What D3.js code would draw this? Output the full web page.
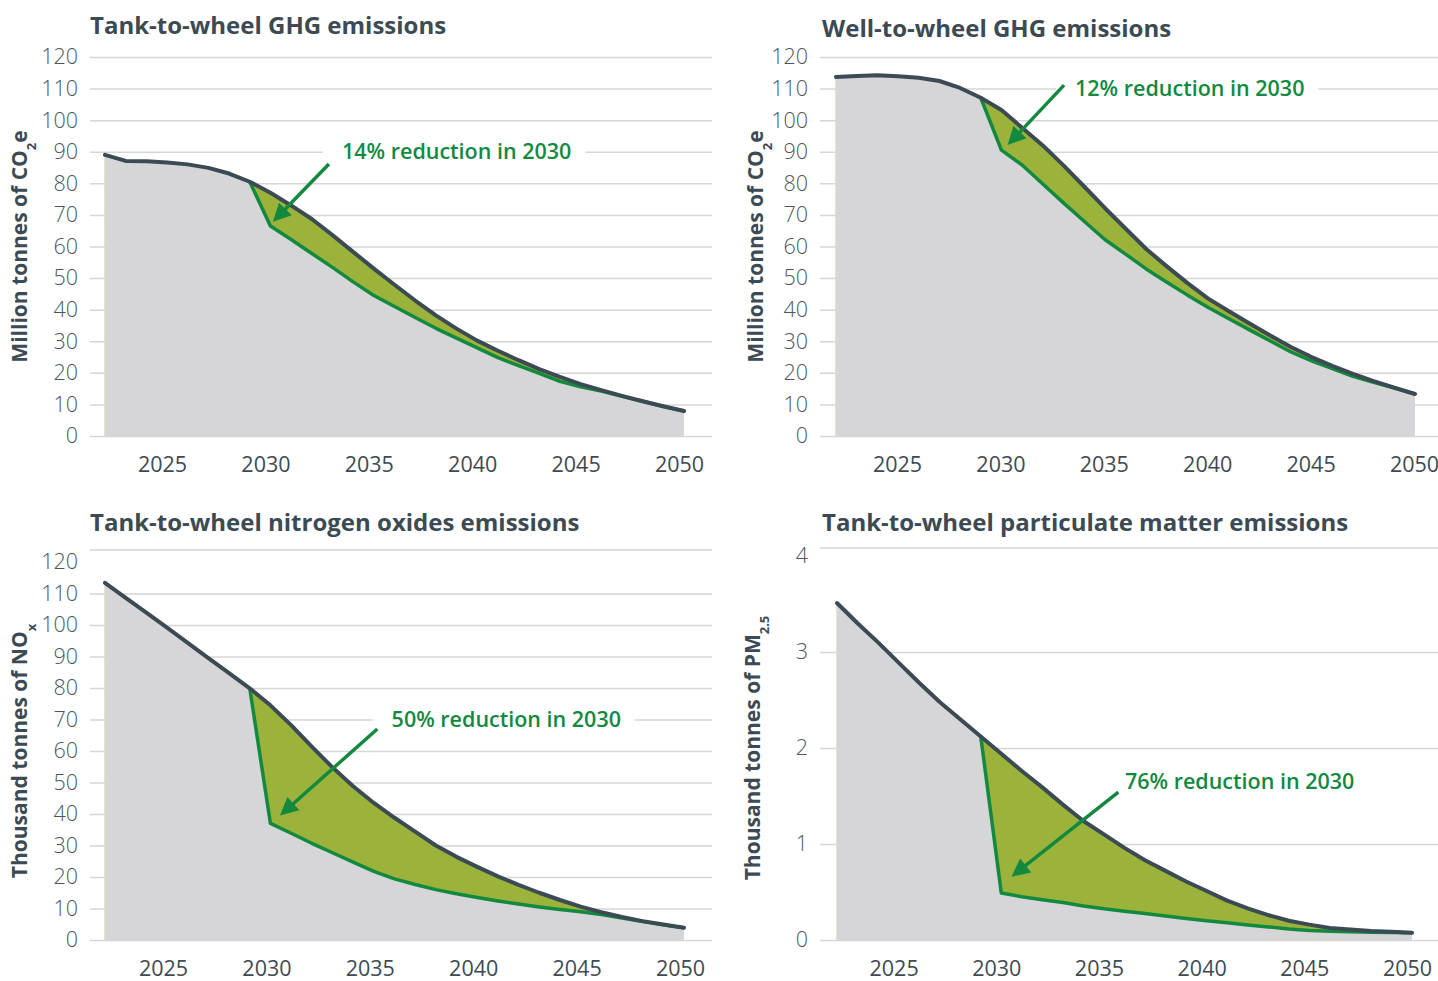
<!DOCTYPE html>
<html>
<head>
<meta charset="utf-8">
<script src="https://cdn.jsdelivr.net/npm/d3@7/dist/d3.min.js"></script>
<style>
  body { margin: 0; background: #fff; }
  svg { display: block; font-family: "Open Sans", sans-serif; }
</style>
</head>
<body>
<svg id="chart" width="1438" height="981"></svg>
<script>
// years on the x axis
var years = [2022, 2023, 2024, 2025, 2026, 2027, 2028, 2029, 2030, 2031, 2032, 2033, 2034, 2035,
  2036, 2037, 2038, 2039, 2040, 2041, 2042, 2043, 2044, 2045, 2046, 2047, 2048, 2049, 2050];
var policyYears = [2029, 2030, 2031, 2032, 2033, 2034, 2035, 2036, 2037, 2038, 2039, 2040,
  2041, 2042, 2043, 2044, 2045, 2046, 2047, 2048, 2049, 2050];
var xTicks = [2025, 2030, 2035, 2040, 2045, 2050];
var tonneTicks = [0, 10, 20, 30, 40, 50, 60, 70, 80, 90, 100, 110, 120];
var pmTicks = [0, 1, 2, 3, 4];

// Tank-to-wheel GHG, million t CO2e
var ttwGhgBase = [89, 87.1, 87, 86.6, 86, 84.9, 83.1, 80.5, 77, 73, 68.7, 63.6, 58.3, 53, 47.9,
  42.9, 38.2, 34, 30.2, 27, 24, 21.2, 18.7, 16.4, 14.5, 12.7, 11, 9.4, 7.9];
var ttwGhgPolicy = [80.5, 66.5, 62.2, 57.8, 53.4, 48.8, 44.5, 41, 37.5, 34.1, 31, 27.9, 24.8,
  22.3, 19.8, 17.3, 15.6, 14.2, 12.6, 11, 9.3, 7.9];

// Well-to-wheel GHG, million t CO2e
var wtwGhgBase = [113.7, 114, 114.2, 113.9, 113.4, 112.4, 110.2, 107.1, 103.2, 97.6, 92, 85.7,
  79, 72.2, 65.7, 59.2, 53.7, 48.4, 43.5, 39.5, 35.6, 31.8, 28.2, 25, 22.2, 19.7, 17.4, 15.3, 13.3];
var wtwGhgPolicy = [107.1, 90.5, 85.8, 79.8, 73.8, 68, 62.2, 57.6, 52.9, 48.7, 44.6, 40.7, 37.1,
  33.6, 30.1, 26.6, 23.8, 21.3, 18.9, 17, 15.2, 13.3];

// Tank-to-wheel NOx, thousand t
var noxBase = [113.4, 108.6, 103.9, 99.2, 94.3, 89.5, 84.7, 79.9, 74.5, 68.2, 61.4, 54.8, 48.8,
  43.5, 38.8, 34.4, 30, 26.4, 23.2, 20.2, 17.5, 15, 12.7, 10.6, 8.8, 7.3, 6, 4.9, 3.9];
var noxPolicy = [79.9, 37, 33.9, 30.7, 27.7, 24.7, 21.8, 19.4, 17.6, 16, 14.7, 13.5, 12.4, 11.4,
  10.5, 9.7, 9, 8.1, 7, 5.9, 4.8, 3.9];

// Tank-to-wheel PM2.5, thousand t
var pmBase = [3.51, 3.3, 3.1, 2.89, 2.68, 2.48, 2.3, 2.12, 1.94, 1.76, 1.59, 1.41, 1.24, 1.1,
  0.96, 0.83, 0.72, 0.61, 0.51, 0.41, 0.33, 0.26, 0.2, 0.16, 0.125, 0.11, 0.095, 0.085, 0.075];
var pmPolicy = [2.12, 0.49, 0.45, 0.42, 0.39, 0.355, 0.325, 0.3, 0.275, 0.25, 0.225, 0.2, 0.18,
  0.157, 0.136, 0.115, 0.1, 0.092, 0.086, 0.082, 0.078, 0.075];

var titles = ["Tank-to-wheel GHG emissions", "Well-to-wheel GHG emissions",
  "Tank-to-wheel nitrogen oxides emissions", "Tank-to-wheel particulate matter emissions"];
var notes = ["14% reduction in 2030", "12% reduction in 2030",
  "50% reduction in 2030", "76% reduction in 2030"];

var DARK = "#3c4a53", GREEN = "#12893f", OLIVE = "#9cb33b", GRAY = "#d6d6d9", GRID = "#d6d6d6";

var svg = d3.select("#chart");

var panels = [
  { base: ttwGhgBase, policy: ttwGhgPolicy, max: 120, ticks: tonneTicks, title: titles[0],
    yTitle: ["Million tonnes of CO", "2", "e"], note: notes[0],
    left: 105, right: 684, top: 57, bottom: 436, gridLeft: 90, gridRight: 712,
    titleX: 90, titleY: 25, yTitleX: 19, labelShift: -5, topLine: null,
    ann: { label: [2033.46, 90], from: [2032.83, 86.1], to: [2030.12, 67.8] } },
  { base: wtwGhgBase, policy: wtwGhgPolicy, max: 120, ticks: tonneTicks, title: titles[1],
    yTitle: ["Million tonnes of CO", "2", "e"], note: notes[1],
    left: 836, right: 1415, top: 57, bottom: 436, gridLeft: 820, gridRight: 1438,
    titleX: 822, titleY: 28, yTitleX: 755, labelShift: -1, topLine: null,
    ann: { label: [2033.56, 110], from: [2033.03, 111.1], to: [2030.3, 92.1] } },
  { base: noxBase, policy: noxPolicy, max: 120, ticks: tonneTicks, title: titles[2],
    yTitle: ["Thousand tonnes of NO", "x", ""], note: notes[2],
    left: 105, right: 684, top: 562, bottom: 940, gridLeft: 90, gridRight: 712,
    titleX: 90, titleY: 522, yTitleX: 19, labelShift: -4, topLine: 550,
    ann: { label: [2035.86, 70], from: [2035.17, 67], to: [2030.46, 39.5] } },
  { base: pmBase, policy: pmPolicy, max: 4, ticks: pmTicks, title: titles[3],
    yTitle: ["Thousand tonnes of PM", "2.5", ""], note: notes[3],
    left: 837, right: 1412, top: 556, bottom: 940, gridLeft: 820, gridRight: 1438,
    titleX: 822, titleY: 522, yTitleX: 752, labelShift: -5, topLine: 548,
    ann: { label: [2036.02, 1.65], from: [2035.7, 1.54], to: [2030.5, 0.66] } }
];

function drawPanel(p) {
  var g = svg.append("g");
  var x = d3.scaleLinear().domain([2022, 2050]).range([p.left, p.right]);
  var y = d3.scaleLinear().domain([0, p.max]).range([p.bottom, p.top]);

  // gridlines + y tick labels
  var yAxis = g.append("g")
    .attr("transform", "translate(" + p.gridLeft + ",0)")
    .call(d3.axisLeft(y).tickValues(p.ticks).tickSize(-(p.gridRight - p.gridLeft))
      .tickPadding(12).tickFormat(d3.format("d")));
  yAxis.select(".domain").remove();
  yAxis.selectAll(".tick line").attr("stroke", GRID).attr("stroke-width", 1.5);
  yAxis.selectAll(".tick text")
    .attr("fill", "#4b575f").attr("font-size", 21.5).attr("font-weight", 300)
    .attr("font-family", "\"Open Sans\", sans-serif");
  if (p.topLine !== null) {
    yAxis.selectAll(".tick").filter(function(d) { return d === p.max; }).select("line").remove();
    g.append("line")
      .attr("x1", p.gridLeft).attr("x2", p.gridRight)
      .attr("y1", p.topLine).attr("y2", p.topLine)
      .attr("stroke", GRID).attr("stroke-width", 1.5);
  }

  // x tick labels
  var xAxis = g.append("g")
    .attr("transform", "translate(" + p.labelShift + "," + p.bottom + ")")
    .call(d3.axisBottom(x).tickValues(xTicks).tickSize(0).tickPadding(21).tickFormat(d3.format("d")));
  xAxis.select(".domain").remove();
  xAxis.selectAll(".tick text")
    .attr("fill", "#3f4a52").attr("font-size", 21.5).attr("font-weight", 500)
    .attr("font-family", "\"Open Sans\", sans-serif");

  var rows = years.map(function(yr, i) { return { year: yr, v: p.base[i] }; });
  var prow = policyYears.map(function(yr, i) {
    return { year: yr, p: p.policy[i], b: p.base[years.indexOf(yr)] };
  });

  // grey area under the baseline
  g.append("path")
    .datum(rows)
    .attr("fill", GRAY)
    .attr("d", d3.area().x(function(d) { return x(d.year); })
      .y0(y(0)).y1(function(d) { return y(d.v); }));
  g.append("line")
    .attr("x1", x(2022)).attr("x2", x(2022))
    .attr("y1", y(0)).attr("y2", y(p.base[0]))
    .attr("stroke", "#d9dac8").attr("stroke-width", 1.5);

  // olive wedge between baseline and policy
  g.append("path")
    .datum(prow)
    .attr("fill", OLIVE)
    .attr("d", d3.area().x(function(d) { return x(d.year); })
      .y0(function(d) { return y(d.p); }).y1(function(d) { return y(d.b); }));

  g.append("path")
    .datum(prow)
    .attr("fill", "none").attr("stroke", GREEN).attr("stroke-width", 3.5)
    .attr("stroke-linejoin", "round")
    .attr("d", d3.line().x(function(d) { return x(d.year); }).y(function(d) { return y(d.p); }));

  g.append("path")
    .datum(rows)
    .attr("fill", "none").attr("stroke", DARK).attr("stroke-width", 4)
    .attr("stroke-linejoin", "round").attr("stroke-linecap", "round")
    .attr("d", d3.line().x(function(d) { return x(d.year); }).y(function(d) { return y(d.v); }));

  // panel title
  g.append("text")
    .attr("x", p.titleX).attr("y", p.titleY)
    .attr("dy", "0.36em")
    .attr("fill", DARK).attr("font-size", 24).attr("font-weight", 700)
    .text(p.title);

  // y axis title with subscript
  var yt = g.append("text")
    .attr("transform", "translate(" + p.yTitleX + "," + ((p.top + p.bottom) / 2) + ") rotate(-90)")
    .attr("text-anchor", "middle").attr("dy", "0.36em")
    .attr("fill", DARK).attr("font-size", 21).attr("font-weight", 700);
  yt.append("tspan").text(p.yTitle[0]);
  yt.append("tspan").attr("baseline-shift", "sub").attr("font-size", 13).text(p.yTitle[1]);
  if (p.yTitle[2]) yt.append("tspan").text(p.yTitle[2]);

  // annotation label on white patch
  var a = p.ann;
  var note = g.append("text")
    .attr("x", x(a.label[0])).attr("y", y(a.label[1]))
    .attr("dy", "0.36em")
    .attr("fill", GREEN).attr("font-size", 21.5).attr("font-weight", 600)
    .text(p.note);
  var bb = note.node().getBBox();
  g.insert("rect", function() { return note.node(); })
    .attr("x", bb.x - 19).attr("y", bb.y)
    .attr("width", bb.width + 33).attr("height", bb.height)
    .attr("fill", "#fff");

  // arrow
  var x1 = x(a.from[0]), y1 = y(a.from[1]), x2 = x(a.to[0]), y2 = y(a.to[1]);
  var len = Math.sqrt((x2 - x1) * (x2 - x1) + (y2 - y1) * (y2 - y1));
  var ux = (x2 - x1) / len, uy = (y2 - y1) / len;
  var head = 18, half = 9;
  g.append("line")
    .attr("x1", x1).attr("y1", y1)
    .attr("x2", x2 - ux * (head - 4)).attr("y2", y2 - uy * (head - 4))
    .attr("stroke", GREEN).attr("stroke-width", 3.5);
  var bx = x2 - ux * head, by = y2 - uy * head;
  g.append("path")
    .attr("fill", GREEN)
    .attr("d", "M" + x2 + "," + y2 +
      "L" + (bx - uy * half) + "," + (by + ux * half) +
      "L" + (bx + uy * half) + "," + (by - ux * half) + "Z");
}

panels.forEach(drawPanel);
</script>
</body>
</html>
